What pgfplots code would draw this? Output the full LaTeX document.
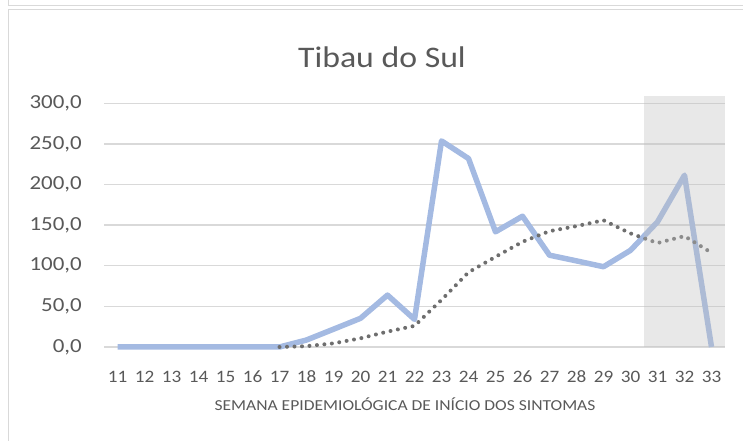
\documentclass[border=0pt]{standalone}
\usepackage{pgfplots}
\pgfplotsset{compat=1.18}
\usepackage{fontspec}
\setmainfont{Carlito}
\definecolor{txt}{HTML}{595959}
\definecolor{gridc}{HTML}{D9D9D9}
\definecolor{blueline}{HTML}{A4BAE2}
\definecolor{dotc}{HTML}{6E6E6E}
\definecolor{framec}{HTML}{D9D9D9}
\begin{document}
\begin{tikzpicture}[x=1bp,y=1bp]
\useasboundingbox (0,0) rectangle (743,441);
\draw[framec, line width=1.3bp] (8.5,441) -- (8.5,435.3) -- (743,435.3);
\draw[framec, line width=1.3bp] (8.5,0) -- (8.5,431.5) -- (743,431.5);
\begin{axis}[
  at={(104bp,94bp)}, anchor=south west, scale only axis,
  width=621bp, height=251bp,
  xmin=10.5, xmax=33.5, ymin=0, ymax=309,
  axis line style={draw=none},
  major tick length=0pt,
  xtick={11,...,33}, ytick={0,50,...,300},
  ymajorgrids, grid style={gridc, line width=1.3bp},
  clip=false,
  /pgf/number format/assume math mode=true,
  yticklabel style={/pgf/number format/fixed, /pgf/number format/fixed zerofill, /pgf/number format/precision=1, /pgf/number format/use comma, /pgf/number format/1000 sep={}},
  y tick label style={font=\fontsize{20}{20}\selectfont, text=txt, anchor=east, inner sep=0pt, xshift=-22bp, xscale=1.15},
  x tick label style={font=\fontsize{17.5}{17.5}\selectfont, text=txt, anchor=base, inner sep=0pt, yshift=-36bp, xscale=1.1},
]
\addplot[blueline, line width=5.5bp, line join=round] coordinates {
(11,0) (12,0) (13,0) (14,0) (15,0) (16,0) (17,0) (18,8.6) (19,21.9) (20,35.3)
(21,63.9) (22,34.0) (23,253.7) (24,232.0) (25,141.8) (26,161.0) (27,113.0)
(28,106.0) (29,98.8) (30,119.0) (31,154.0) (32,211.5) (33,0)};
\addplot[dotc, line width=4bp, line cap=round, dash pattern=on 0pt off 7.5bp] coordinates {
(17,0) (18,1.0) (19,4.5) (20,10.7) (21,18.9) (22,26.0) (23,58) (24,92)
(25,111) (26,129.5) (27,142.6) (28,148.8) (29,156) (30,139.8) (31,128)
(32,136.5) (33,116)};
\addplot[draw=none, fill=black!25, fill opacity=0.36] coordinates {
(30.5,0) (30.5,309) (33.5,309) (33.5,0)} -- cycle;
\end{axis}
\node[font=\fontsize{30}{30}\selectfont, text=txt, anchor=base, xscale=1.13] at (382,373) {Tibau do Sul};
\node[font=\fontsize{15.3}{15.3}\selectfont, text=txt, anchor=base, xscale=1.15] at (405,30) {SEMANA EPIDEMIOLÓGICA DE INÍCIO DOS SINTOMAS};
\end{tikzpicture}
\end{document}
